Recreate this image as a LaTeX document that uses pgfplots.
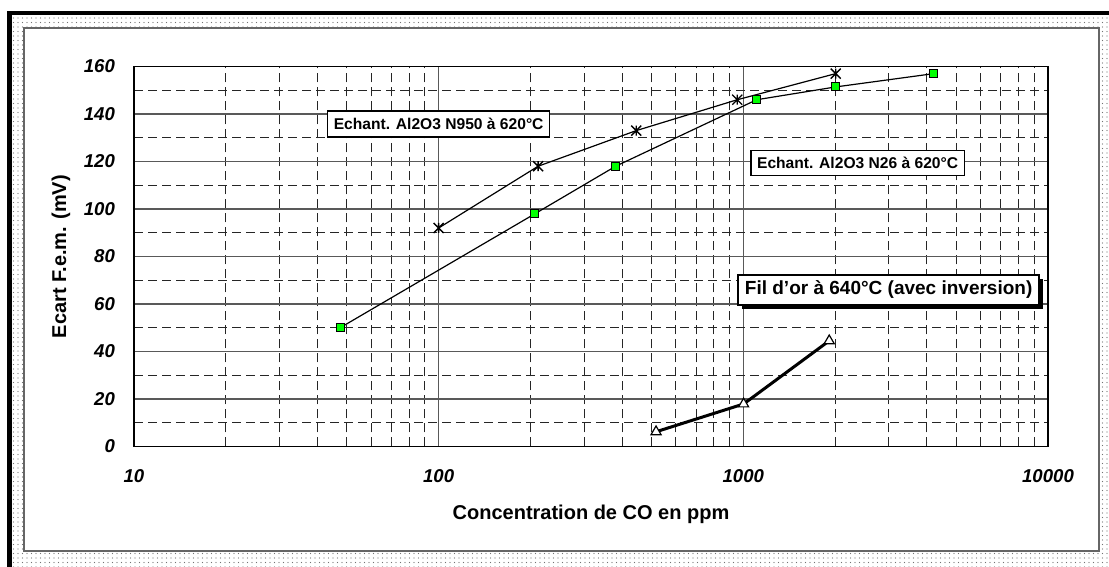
\documentclass[border=0pt]{standalone}
\usepackage{fontspec}
\setmainfont{Liberation Sans}
\usepackage{pgfplots}
\pgfplotsset{compat=1.18}
\usetikzlibrary{patterns.meta}
\pgfdeclareplotmark{xstar}{%
  \pgfpathmoveto{\pgfqpoint{-\pgfplotmarksize}{-\pgfplotmarksize}}%
  \pgfpathlineto{\pgfqpoint{\pgfplotmarksize}{\pgfplotmarksize}}%
  \pgfpathmoveto{\pgfqpoint{-\pgfplotmarksize}{\pgfplotmarksize}}%
  \pgfpathlineto{\pgfqpoint{\pgfplotmarksize}{-\pgfplotmarksize}}%
  \pgfpathmoveto{\pgfqpoint{0pt}{-\pgfplotmarksize}}%
  \pgfpathlineto{\pgfqpoint{0pt}{\pgfplotmarksize}}%
  \pgfusepathqstroke}
\begin{document}
\begin{tikzpicture}
% page background and frame
\fill[white] (0,0) rectangle (554.5pt,283.5pt);
\fill[pattern={Dots[radius=0.3pt,distance=2.25pt]}, pattern color=black!55] (6pt,0) rectangle (554.5pt,276pt);
\fill[black] (3.5pt,0) rectangle (6pt,278pt);
\fill[black] (3.5pt,276pt) rectangle (554.5pt,278pt);
\filldraw[fill=white, draw=black!60, line width=0.8pt] (12pt,8pt) rectangle (549.5pt,269.5pt);
\begin{axis}[
  at={(67pt,60.25pt)}, anchor=south west,
  width=457pt, height=190pt, scale only axis,
  xmode=log, xmin=10, xmax=10000,
  ymin=0, ymax=160,
  xtick={10,100,1000,10000},
  xticklabels={10,100,1000,10000},
  minor xtick={20,30,40,50,60,70,80,90,200,300,400,500,600,700,800,900,2000,3000,4000,5000,6000,7000,8000,9000},
  ytick={0,20,40,60,80,100,120,140,160},
  minor ytick={10,30,50,70,90,110,130,150},
  grid=both,
  major grid style={draw=black!65, line width=0.6pt},
  minor grid style={draw=black!85, line width=0.5pt, dash pattern=on 4.5pt off 2.5pt},
  major tick length=0pt, minor tick length=0pt,
  axis line style={black, line width=0.8pt},
  /pgf/number format/assume math mode=true,
  ticklabel style={font=\fontsize{9.3}{11}\selectfont\bfseries\itshape},
  xticklabel style={yshift=-8pt},
  yticklabel style={xshift=-6pt},
  xlabel={Concentration de CO en ppm},
  ylabel={Ecart F.e.m. (mV)},
  label style={font=\fontsize{10}{12}\selectfont\bfseries},
  xlabel style={at={(axis description cs:0.5,-0.1776)}, anchor=center},
  ylabel style={at={(axis description cs:-0.0799,0.5)}, anchor=center},
]
\addplot[black, line width=0.6pt, mark=xstar, mark size=2.5pt, mark options={line width=0.7pt}]
  coordinates {(100,92) (212,118) (445,133) (955,146) (2010,157)};
\addplot[black, line width=0.6pt, mark=square*, mark size=2pt, mark options={fill=green, draw=black, line width=0.5pt}]
  coordinates {(47.5,50) (207,98) (381,118) (1106,146) (2010,151.4) (4222,157)};
\addplot[black, line width=1.5pt, mark=triangle*, mark size=2.9pt, mark options={fill=white, draw=black, line width=0.6pt}]
  coordinates {(517,6.2) (1002,17.9) (1914,44.5)};
\node[draw=black, line width=0.7pt, fill=white, minimum width=111pt, minimum height=12.85pt, inner sep=0pt,
  font=\fontsize{7.8}{9}\selectfont\bfseries] at (axis cs:100,135.8) {Echant. Al2O3 N950 à 620°C};
\node[draw=black, line width=0.7pt, fill=white, minimum width=106.7pt, minimum height=12.5pt, inner sep=0pt,
  font=\fontsize{7.8}{9}\selectfont\bfseries] at (axis cs:2372,119.3) {Echant. Al2O3 N26 à 620°C};
\fill[black] ([shift={(2pt,-2pt)}]axis cs:2999,65.9) +(-75.25pt,-7.5pt) rectangle +(75.25pt,7.5pt);
\node[draw=black, line width=0.7pt, fill=white, minimum width=150.5pt, minimum height=15pt, inner sep=0pt,
  font=\fontsize{9.5}{11}\selectfont\bfseries] at (axis cs:2999,65.9) {Fil d'or à 640°C (avec inversion)};
\end{axis}
\pgfresetboundingbox
\useasboundingbox (0,0) rectangle (554.5pt,283.5pt);
\end{tikzpicture}
\end{document}
